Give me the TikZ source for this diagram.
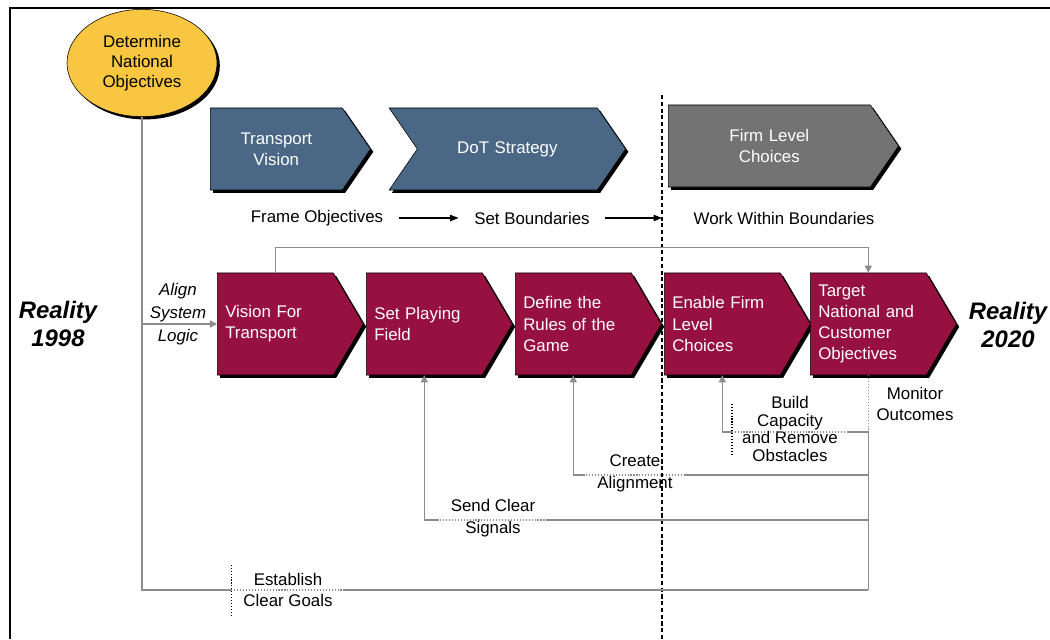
\documentclass[tikz,border=0pt]{standalone}
\usepackage{fontspec}
\setmainfont{Liberation Sans}
\usetikzlibrary{shapes.symbols,shapes.geometric,shadows,arrows.meta}
\definecolor{maroon}{HTML}{961040}
\definecolor{slate}{HTML}{4A6885}
\definecolor{firmgray}{HTML}{737373}
\definecolor{goal}{HTML}{F8C640}
\definecolor{link}{HTML}{8C8C8C}
\begin{document}
\begin{tikzpicture}[x=0.025cm,y=-0.025cm,
  font=\fontsize{12}{15}\selectfont,
  boxshadow/.style={drop shadow={shadow xshift=2pt,shadow yshift=-2pt,fill=black,opacity=1}},
  chev/.style={shape=signal,signal to=east,draw=black,boxshadow,text=white,inner sep=0.2cm},
  phase/.style={chev,fill=slate,minimum height=2.05cm,signal pointer angle=111,align=center},
  stepbox/.style={chev,fill=maroon,minimum height=2.55cm,signal pointer angle=119,text width=2.5cm,align=left},
  gline/.style={draw=link,line width=1pt},
  garrow/.style={gline,-{Triangle[length=5pt,width=5pt]}},
  dline/.style={draw=link,line width=0.9pt,dash pattern=on 0.8pt off 1.3pt},
  tick/.style={draw=black,line width=0.9pt,dash pattern=on 0.8pt off 1.3pt},
  flow/.style={draw=black,line width=0.8pt,-{Triangle[length=6pt,width=4.5pt]}},
  lbl/.style={align=center,inner ysep=0pt,inner xsep=8.5pt,font=\fontsize{12}{15.5}\selectfont}
]
\useasboundingbox (0,0) rectangle (1050,639);
\draw[line width=1.5pt] (10,639) -- (10,8) -- (1050,8);
\draw[line width=0.9pt,dash pattern=on 3pt off 1.8pt] (662,95) -- (662,639);

\node[ellipse,draw=black,fill=goal,boxshadow,minimum width=3.75cm,minimum height=2.68cm,
  inner sep=0pt,align=center,font=\fontsize{12}{14.2}\selectfont] (obj) at (142,63) {Determine\\National\\Objectives};

\node[phase,anchor=west,text width=2.9cm] (tv) at (210,149) {Transport\\Vision};
\node[phase,signal from=west,anchor=west,text width=4.1cm] (dot) at (417,149) {DoT Strategy};
\node[phase,fill=firmgray,anchor=west,text width=4.65cm] (flc) at (668,146) {Firm Level\\Choices};

\node[inner xsep=11pt] (fo) at (317,218) {Frame Objectives};
\node[inner xsep=11pt] (sb) at (532,218) {Set Boundaries};
\node (wwb) at (784,218) {Work Within Boundaries};
\coordinate (split) at (662,218);
\draw[flow] (fo) -- (sb);
\draw[flow] (sb) -- (split);

\node[stepbox,anchor=west] (vft) at (217,324) {Vision For\\Transport};
\node[stepbox,anchor=west] (spf) at (366,324) {Set Playing\\Field};
\node[stepbox,anchor=west] (drg) at (515,324) {Define the\\Rules of the\\Game};
\node[stepbox,anchor=west] (efl) at (664,324) {Enable Firm\\Level\\Choices};
\node[stepbox,anchor=west] (tnc) at (810,324) {Target\\National and\\Customer\\Objectives};

\node[align=center,font=\fontsize{17}{20}\selectfont\bfseries\itshape] (r98) at (58,324) {Reality\\1998};
\node[align=center,font=\fontsize{17}{20}\selectfont\bfseries\itshape] (r20) at (1008,325) {Reality\\2020};
\node[align=center,inner sep=0pt,font=\fontsize{12}{16.4}\selectfont\itshape] (sys) at (178,314) {Align\\System\\Logic};

\node[lbl] (mon) at (915,404) {Monitor\\Outcomes};
\node[lbl,inner xsep=7pt,font=\fontsize{12}{12.5}\selectfont] (bld) at (790,429) {Build\\Capacity\\and Remove\\Obstacles};
\node[lbl] (crt) at (635,473) {Create\\Alignment};
\node[lbl] (snd) at (493,518) {Send Clear\\Signals};
\node[lbl] (est) at (288,590) {Establish\\Clear Goals};

\coordinate (fb1) at (tnc.south |- 0,432);
\coordinate (fb2) at (tnc.south |- 0,475);
\coordinate (fb3) at (tnc.south |- 0,520);
\coordinate (fb4) at (tnc.south |- 0,590);

\draw[garrow] (vft.north) -- ++(0,-25) -| (tnc.north);
\draw[garrow] (obj.south |- vft.west) -- (vft.west);

\draw[dline] (tnc.south) -- (fb1);
\draw[gline] (fb1) -- (fb4);

\draw[gline] (fb1) -- (bld.east |- fb1);
\draw[dline] (bld.east |- fb1) -- (bld.west |- fb1);
\draw[garrow] (bld.west |- fb1) -| (efl.south);
\draw[tick] ([yshift=18pt]bld.west) -- ([yshift=-18pt]bld.west);

\draw[gline] (fb2) -- (crt.east |- fb2);
\draw[dline] (crt.east |- fb2) -- (crt.west |- fb2);
\draw[garrow] (crt.west |- fb2) -| (drg.south);

\draw[gline] (fb3) -- (snd.east |- fb3);
\draw[dline] (snd.east |- fb3) -- (snd.west |- fb3);
\draw[garrow] (snd.west |- fb3) -| (spf.south);

\draw[gline] (obj.south) |- (est.west |- fb4);
\draw[dline] (est.west |- fb4) -- (est.east |- fb4);
\draw[gline] (est.east |- fb4) -- (fb4);
\draw[tick] ([yshift=18pt]est.west) -- ([yshift=-18pt]est.west);
\end{tikzpicture}
\end{document}
